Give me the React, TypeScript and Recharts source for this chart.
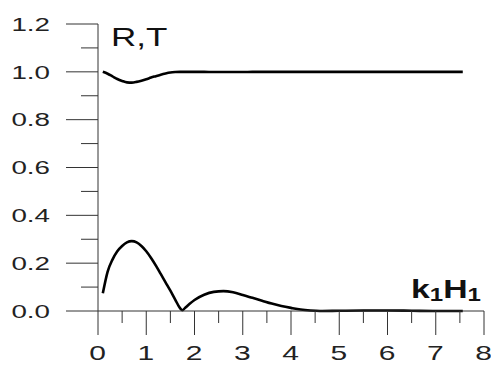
import { LineChart, Line, XAxis, YAxis } from 'recharts';

// k1H1 sample points
const kH = [
  0.1, 0.2, 0.3, 0.4, 0.5, 0.6, 0.7, 0.8, 0.9, 1.0, 1.1, 1.2, 1.3, 1.4, 1.5, 1.6, 1.7, 1.75, 1.8, 1.9, 2.0,
  2.2, 2.4, 2.6, 2.8, 3.0, 3.2, 3.4, 3.6, 3.8, 4.0, 4.2, 4.4, 4.6, 5.0, 5.5, 6.0, 6.5, 7.0, 7.5, 7.56,
];
const rVals = [
  0.074, 0.165, 0.215, 0.25, 0.272, 0.287, 0.292, 0.287, 0.272, 0.25, 0.222, 0.19, 0.155, 0.12, 0.085, 0.048, 0.012, 0.003, 0.012, 0.03, 0.046,
  0.068, 0.08, 0.083, 0.078, 0.067, 0.055, 0.043, 0.031, 0.021, 0.013, 0.006, 0.002, 0.0, 0.001, 0.002, 0.002, 0.001, 0.0, 0.0, 0.0,
];
const tVals = [
  1.0, 0.992, 0.981, 0.97, 0.962, 0.956, 0.955, 0.958, 0.963, 0.969, 0.976, 0.982, 0.988, 0.993, 0.997, 0.999, 1.0, 1.0, 1.0, 1.0, 1.0,
  1.0, 0.999, 0.999, 0.999, 0.999, 1.0, 1.0, 1.0, 1.0, 1.0, 1.0, 1.0, 1.0, 1.0, 1.0, 1.0, 1.0, 1.0, 1.0, 1.0,
];

const xTicks = [0, 0.5, 1, 1.5, 2, 2.5, 3, 3.5, 4, 4.5, 5, 5.5, 6, 6.5, 7, 7.5, 8];
const yTicks = [0, 0.1, 0.2, 0.3, 0.4, 0.5, 0.6, 0.7, 0.8, 0.9, 1.0, 1.1, 1.2];
const yLabels = ['0.0', '0.2', '0.4', '0.6', '0.8', '1.0', '1.2'];

const data = kH.map((x, i) => ({ x, r: rVals[i], t: tVals[i] }));

const axisColor = '#333';
const font = '"Liberation Sans", Arial, sans-serif';

const XTick = (props: any) => {
  const { x, y, payload } = props;
  const v = payload.value;
  const major = Number.isInteger(v);
  return (
    <g>
      <line x1={x} x2={x} y1={y} y2={y + (major ? 24 : 12)} stroke={axisColor} strokeWidth={1} />
      {major && (
        <g transform={`translate(${x - 0.5},${y + 49}) scale(1.5,1)`}>
          <text x={0} y={0} textAnchor="middle" fontSize={20} fontFamily={font} fill="#222">
            {v}
          </text>
        </g>
      )}
    </g>
  );
};

const YTick = (props: any) => {
  const { x, y, index } = props;
  const major = index % 2 === 0;
  return (
    <g>
      <line x1={x} x2={x - (major ? 32 : 17)} y1={y} y2={y} stroke={axisColor} strokeWidth={1} />
      {major && (
        <g transform={`translate(50,${y}) scale(1.5,1)`}>
          <text x={0} y={0} dy="0.36em" textAnchor="end" fontSize={18.5} fontFamily={font} fill="#222">
            {yLabels[index / 2]}
          </text>
        </g>
      )}
    </g>
  );
};

export default function App() {
  return (
    <div style={{ position: 'absolute', left: 0, top: 0, background: '#fff' }}>
      <LineChart width={491} height={365} data={data} margin={{ top: 24, right: 7, left: 0, bottom: 0 }}>
        <XAxis
          type="number"
          dataKey="x"
          domain={[0, 8]}
          ticks={xTicks}
          interval={0}
          tickSize={0}
          tickMargin={0}
          height={54}
          tick={<XTick />}
          axisLine={{ stroke: axisColor, strokeWidth: 1 }}
        />
        <YAxis
          type="number"
          domain={[0, 1.2]}
          ticks={yTicks}
          interval={0}
          tickSize={0}
          tickMargin={0}
          width={98}
          tick={<YTick />}
          axisLine={{ stroke: axisColor, strokeWidth: 1 }}
        />
        <Line type="monotone" dataKey="t" stroke="#000" strokeWidth={2.6} dot={false} isAnimationActive={false} />
        <Line type="monotone" dataKey="r" stroke="#000" strokeWidth={2.6} dot={false} isAnimationActive={false} />
        <g transform="translate(111,46) scale(1.4,1)">
          <text x={0} y={0} fontSize={25} fontFamily={font} fill="#111">
            R,T
          </text>
        </g>
        <g transform="translate(411,298) scale(1.3,1)">
          <text x={0} y={0} fontSize={26} fontWeight="bold" fontFamily={font} fill="#111">
            k<tspan fontSize={18.5} dy={3}>1</tspan>
            <tspan dy={-3}>H</tspan>
            <tspan fontSize={18.5} dy={3}>1</tspan>
          </text>
        </g>
      </LineChart>
    </div>
  );
}
